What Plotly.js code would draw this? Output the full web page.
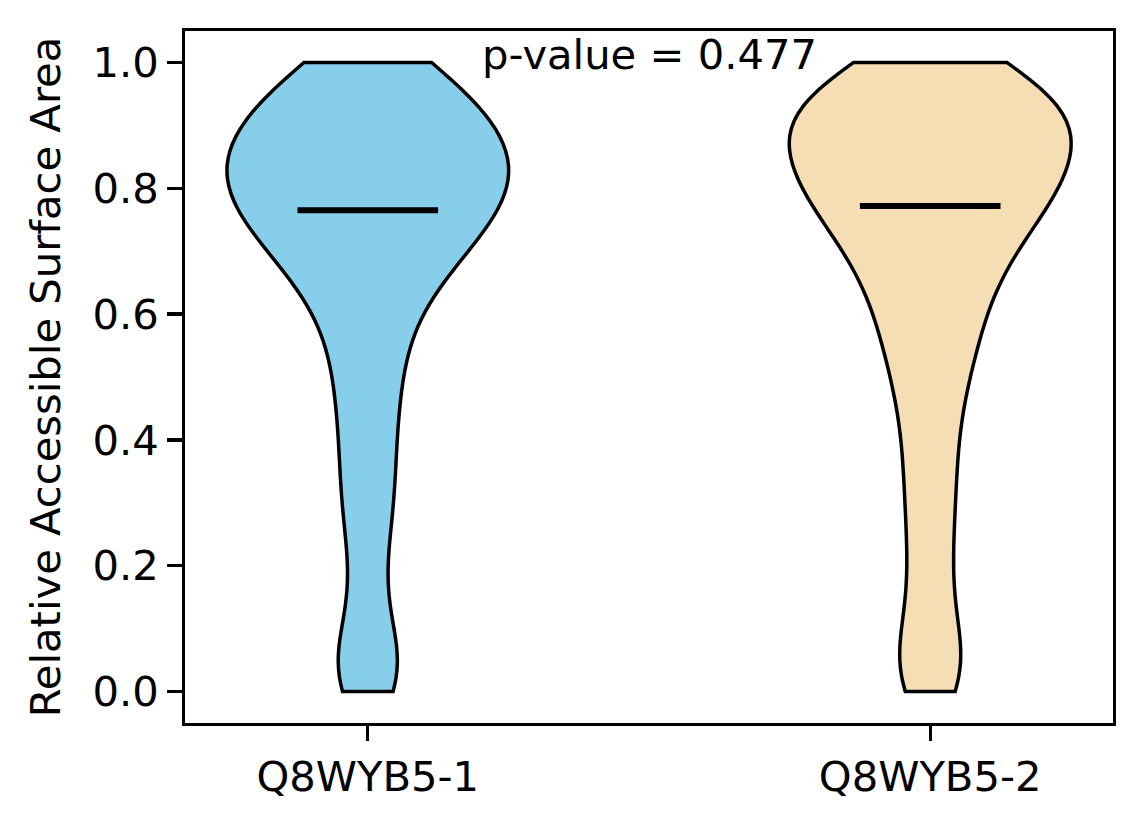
<!DOCTYPE html>
<html>
<head>
<meta charset="utf-8">
<script src="https://cdn.plot.ly/plotly-3.0.1.min.js"></script>
<style>
  body { margin: 0; background: #fff; }
  #violin { width: 1144px; height: 824px; }
</style>
</head>
<body>
<div id="violin"></div>
<script>
// relative accessible surface area per residue, one list per isoform
var isoformNames = ['Q8WYB5-1', 'Q8WYB5-2'];
var isoformColors = ['#87CEEB', '#F5DEB3'];

var rsaIso1 = [0.000, 0.022, 0.051, 0.097, 0.183, 0.262, 0.308, 0.361, 0.412, 0.457,
               0.503, 0.541, 0.576, 0.612, 0.634, 0.657, 0.676, 0.691, 0.704, 0.717,
               0.727, 0.741, 0.753, 0.765, 0.771, 0.783, 0.791, 0.801, 0.808, 0.819,
               0.826, 0.837, 0.844, 0.855, 0.862, 0.873, 0.881, 0.893, 0.901, 0.913,
               0.921, 0.936, 0.949, 0.966, 0.981, 0.991, 1.000];

var rsaIso2 = [0.000, 0.027, 0.044, 0.091, 0.148, 0.212, 0.268, 0.322, 0.369, 0.421,
               0.466, 0.498, 0.536, 0.561, 0.584, 0.611, 0.633, 0.656, 0.674, 0.696,
               0.707, 0.723, 0.735, 0.751, 0.761, 0.772, 0.784, 0.793, 0.804, 0.811,
               0.822, 0.829, 0.840, 0.847, 0.858, 0.865, 0.876, 0.883, 0.894, 0.903,
               0.910, 0.921, 0.926, 0.931, 0.941, 0.949, 0.961, 0.969, 0.981, 0.990,
               1.000];

var pValueText = 'p-value = 0.477';

function median(arr) {
    var s = arr.slice().sort(function (a, b) { return a - b; });
    var m = Math.floor(s.length / 2);
    return s.length % 2 ? s[m] : (s[m - 1] + s[m]) / 2;
}

var allGroups = [rsaIso1, rsaIso2];
var data = [];

allGroups.forEach(function (vals, i) {
    data.push({
        type: 'violin',
        y: vals,
        x0: i + 1,
        name: isoformNames[i],
        width: 0.5,
        bandwidth: 0.07,
        spanmode: 'hard',
        scalemode: 'width',
        points: false,
        box: {visible: false},
        meanline: {visible: false},
        fillcolor: isoformColors[i],
        opacity: 1,
        line: {color: 'black', width: 3.5},
        hoverinfo: 'skip'
    });
});

// median bars, like matplotlib showmedians
allGroups.forEach(function (vals, i) {
    var med = median(vals);
    data.push({
        type: 'scatter',
        mode: 'lines',
        x: [i + 1 - 0.125, i + 1 + 0.125],
        y: [med, med],
        line: {color: 'black', width: 6},
        hoverinfo: 'skip'
    });
});

var fontSize = 41.7;

var layout = {
    width: 1144,
    height: 824,
    margin: {l: 185, r: 31, t: 30.5, b: 100.5},
    paper_bgcolor: 'white',
    plot_bgcolor: 'white',
    showlegend: false,
    violinmode: 'overlay',
    violingap: 0,
    violingroupgap: 0,
    font: {family: 'DejaVu Sans', size: fontSize, color: 'black'},
    xaxis: {
        range: [0.675, 2.325],
        tickvals: [1, 2],
        ticktext: isoformNames,
        showgrid: false,
        zeroline: false,
        showline: true,
        mirror: true,
        linecolor: 'black',
        linewidth: 3.3,
        ticks: 'outside',
        ticklen: 14.6,
        tickwidth: 3.3,
        tickcolor: 'black'
    },
    yaxis: {
        range: [-0.05, 1.05],
        tickvals: [0, 0.2, 0.4, 0.6, 0.8, 1.0],
        tickformat: '.1f',
        showgrid: false,
        zeroline: false,
        showline: true,
        mirror: true,
        linecolor: 'black',
        linewidth: 3.3,
        ticks: 'outside',
        ticklen: 14.6,
        tickwidth: 3.3,
        tickcolor: 'black',
        title: {
            text: 'Relative Accessible Surface Area',
            font: {family: 'DejaVu Sans', size: fontSize, color: 'black'},
            standoff: 20
        }
    },
    annotations: [{
        text: pValueText,
        x: 1.5,
        y: 1.013,
        xref: 'x',
        yref: 'y',
        xanchor: 'center',
        yanchor: 'middle',
        showarrow: false,
        font: {family: 'DejaVu Sans', size: fontSize, color: 'black'}
    }]
};

Plotly.newPlot('violin', data, layout, {staticPlot: true});
</script>
</body>
</html>
